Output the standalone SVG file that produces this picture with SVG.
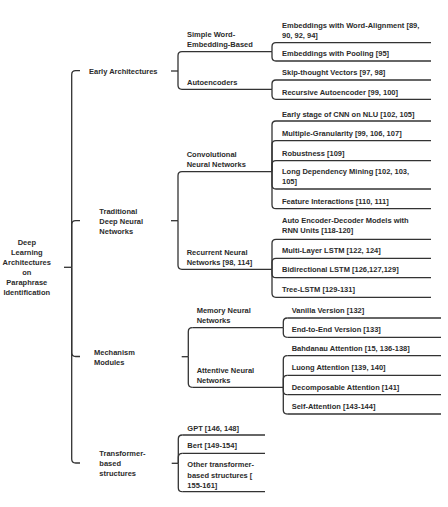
<svg xmlns="http://www.w3.org/2000/svg" width="448" height="507" viewBox="0 0 448 507">
<style>
text{font-family:"Liberation Sans",Arial,sans-serif;font-size:7.5px;font-weight:bold;fill:#2b2b2b}
.m{text-anchor:middle}
.c,.u{fill:none;stroke:#333;stroke-width:1.3;stroke-linecap:butt}
</style>
<rect width="448" height="507" fill="#fff"/>
<g id="connectors">
<path class="c" d="M64 267.3 H71.7"/>
<path class="c" d="M71.7 267.3 V74.7 Q71.7 70.7 75.7 70.7 H80"/>
<path class="c" d="M71.7 267.3 V224.7 Q71.7 220.7 75.7 220.7 H80"/>
<path class="c" d="M71.7 267.3 V352.5 Q71.7 356.5 75.7 356.5 H80"/>
<path class="c" d="M71.7 267.3 V459 Q71.7 463 75.7 463 H80"/>
<path class="c" d="M171 71 H178"/>
<path class="c" d="M178 71 V55.7 Q178 51.7 182 51.7"/>
<path class="c" d="M178 71 V85.3 Q178 89.3 182 89.3"/>
<path class="c" d="M272 51.7 V46.7 Q272 42.7 276 42.7"/>
<path class="c" d="M272 51.7 V57 Q272 61 276 61"/>
<path class="c" d="M272 89.3 V84 Q272 80 276 80"/>
<path class="c" d="M272 89.3 V95.3 Q272 99.3 276 99.3"/>
<path class="c" d="M171 220.7 H178"/>
<path class="c" d="M178 220.7 V175.7 Q178 171.7 182 171.7"/>
<path class="c" d="M178 220.7 V265.3 Q178 269.3 182 269.3"/>
<path class="c" d="M272 171.7 V125 Q272 121 276 121"/>
<path class="c" d="M272 171.7 V144.7 Q272 140.7 276 140.7"/>
<path class="c" d="M272 171.7 V164.7 Q272 160.7 276 160.7"/>
<path class="c" d="M272 171.7 V185 Q272 189 276 189"/>
<path class="c" d="M272 171.7 V204.7 Q272 208.7 276 208.7"/>
<path class="c" d="M272 269.3 V243.3 Q272 239.3 276 239.3"/>
<path class="c" d="M272 269.3 V262.3 Q272 258.3 276 258.3"/>
<path class="c" d="M272 269.3 V273.7 Q272 277.7 276 277.7"/>
<path class="c" d="M272 269.3 V293.3 Q272 297.3 276 297.3"/>
<path class="c" d="M181.7 356.7 H188.3"/>
<path class="c" d="M188.3 356.7 V331.7 Q188.3 327.7 192.3 327.7"/>
<path class="c" d="M188.3 356.7 V383.3 Q188.3 387.3 192.3 387.3"/>
<path class="c" d="M283.3 327.7 V322 Q283.3 318 287.3 318"/>
<path class="c" d="M283.3 327.7 V333.3 Q283.3 337.3 287.3 337.3"/>
<path class="c" d="M283.3 387.3 V359.7 Q283.3 355.7 287.3 355.7"/>
<path class="c" d="M283.3 387.3 V379.3 Q283.3 375.3 287.3 375.3"/>
<path class="c" d="M283.3 387.3 V390.7 Q283.3 394.7 287.3 394.7"/>
<path class="c" d="M283.3 387.3 V410 Q283.3 414 287.3 414"/>
<path class="c" d="M171.7 463.3 H178.3"/>
<path class="c" d="M178.3 463.3 V439 Q178.3 435 182.3 435"/>
<path class="c" d="M178.3 463.3 V457.3 Q178.3 453.3 182.3 453.3"/>
<path class="c" d="M178.3 463.3 V487.7 Q178.3 491.7 182.3 491.7"/>
</g>
<g id="root">
<text class="m" x="26.8" y="245.3">Deep</text>
<text class="m" x="26.8" y="255.3">Learning</text>
<text class="m" x="26.8" y="265.3">Architectures</text>
<text class="m" x="26.8" y="275.3">on</text>
<text class="m" x="26.8" y="285.3">Paraphrase</text>
<text class="m" x="26.8" y="295.3">Identification</text>
</g>
<g id="early"><text x="89" y="73.6">Early Architectures</text></g>
<g id="traditional"><text x="99.3" y="214">Traditional</text><text x="99.3" y="224">Deep Neural</text><text x="99.3" y="234">Networks</text></g>
<g id="mechanism"><text x="94" y="355.3">Mechanism</text><text x="94" y="365.3">Modules</text></g>
<g id="transformer"><text x="99.3" y="456">Transformer-</text><text x="99.3" y="466">based</text><text x="99.3" y="476">structures</text></g>

<g id="simple"><text x="187" y="36.7">Simple Word-</text><text x="187" y="46.7">Embedding-Based</text><path class="u" d="M182 51.7 H272"/></g>
<g id="autoencoders"><text x="187" y="84.5">Autoencoders</text><path class="u" d="M182 89.3 H272"/></g>
<g id="wordalign"><text x="282" y="27.7">Embeddings with Word-Alignment [89,</text><text x="282" y="37.5">90, 92, 94]</text><path class="u" d="M276 42.7 H431"/></g>
<g id="pooling"><text x="282" y="56">Embeddings with Pooling [95]</text><path class="u" d="M276 61 H431"/></g>
<g id="skip"><text x="282" y="74.8">Skip-thought Vectors [97, 98]</text><path class="u" d="M276 80 H431"/></g>
<g id="recursive"><text x="282" y="94.8">Recursive Autoencoder [99, 100]</text><path class="u" d="M276 99.3 H431"/></g>

<g id="cnn"><text x="186.7" y="157">Convolutional</text><text x="186.7" y="167">Neural Networks</text><path class="u" d="M182 171.7 H272"/></g>
<g id="rnn"><text x="186.7" y="255.3">Recurrent Neural</text><text x="186.7" y="265">Networks [98, 114]</text><path class="u" d="M182 269.3 H272"/></g>
<g id="earlycnn"><text x="282" y="116.5">Early stage of CNN on NLU [102, 105]</text><path class="u" d="M276 121 H431"/></g>
<g id="granularity"><text x="282" y="136">Multiple-Granularity [99, 106, 107]</text><path class="u" d="M276 140.7 H431"/></g>
<g id="robustness"><text x="282" y="155.5">Robustness [109]</text><path class="u" d="M276 160.7 H431"/></g>
<g id="longdep"><text x="282" y="174.3">Long Dependency Mining [102, 103,</text><text x="282" y="184">105]</text><path class="u" d="M276 189 H431"/></g>
<g id="feature"><text x="282" y="203.5">Feature Interactions [110, 111]</text><path class="u" d="M276 208.7 H431"/></g>
<g id="autoencdec"><text x="282" y="222.7">Auto Encoder-Decoder Models with</text><text x="282" y="232.7">RNN Units [118-120]</text><path class="u" d="M276 239.3 H431"/></g>
<g id="multilayer"><text x="282" y="252.5">Multi-Layer LSTM [122, 124]</text><path class="u" d="M276 258.3 H431"/></g>
<g id="bidirectional"><text x="282" y="272.3">Bidirectional LSTM [126,127,129]</text><path class="u" d="M276 277.7 H431"/></g>
<g id="treelstm"><text x="282" y="292">Tree-LSTM [129-131]</text><path class="u" d="M276 297.3 H431"/></g>

<g id="memory"><text x="196.7" y="312.6">Memory Neural</text><text x="196.7" y="322.6">Networks</text><path class="u" d="M192.3 327.7 H283.3"/></g>
<g id="attentive"><text x="196.7" y="372.6">Attentive Neural</text><text x="196.7" y="382.6">Networks</text><path class="u" d="M192.3 387.3 H283.3"/></g>
<g id="vanilla"><text x="291.7" y="312.8">Vanilla Version [132]</text><path class="u" d="M287.3 318 H441"/></g>
<g id="endtoend"><text x="291.7" y="332">End-to-End Version [133]</text><path class="u" d="M287.3 337.3 H441"/></g>
<g id="bahdanau"><text x="291.7" y="350.6">Bahdanau Attention [15, 136-138]</text><path class="u" d="M287.3 355.7 H441"/></g>
<g id="luong"><text x="291.7" y="370.3">Luong Attention [139, 140]</text><path class="u" d="M287.3 375.3 H441"/></g>
<g id="decomposable"><text x="291.7" y="389.8">Decomposable Attention [141]</text><path class="u" d="M287.3 394.7 H441"/></g>
<g id="selfatt"><text x="291.7" y="409.2">Self-Attention [143-144]</text><path class="u" d="M287.3 414 H441"/></g>

<g id="gpt"><text x="187.3" y="430.8">GPT [146, 148]</text><path class="u" d="M182.3 435 H265"/></g>
<g id="bert"><text x="187.3" y="447.8">Bert [149-154]</text><path class="u" d="M182.3 453.3 H265"/></g>
<g id="other"><text x="187.3" y="467">Other transformer-</text><text x="187.3" y="477.6">based structures [</text><text x="187.3" y="488.3">155-161]</text><path class="u" d="M182.3 491.7 H265"/></g>
</svg>
